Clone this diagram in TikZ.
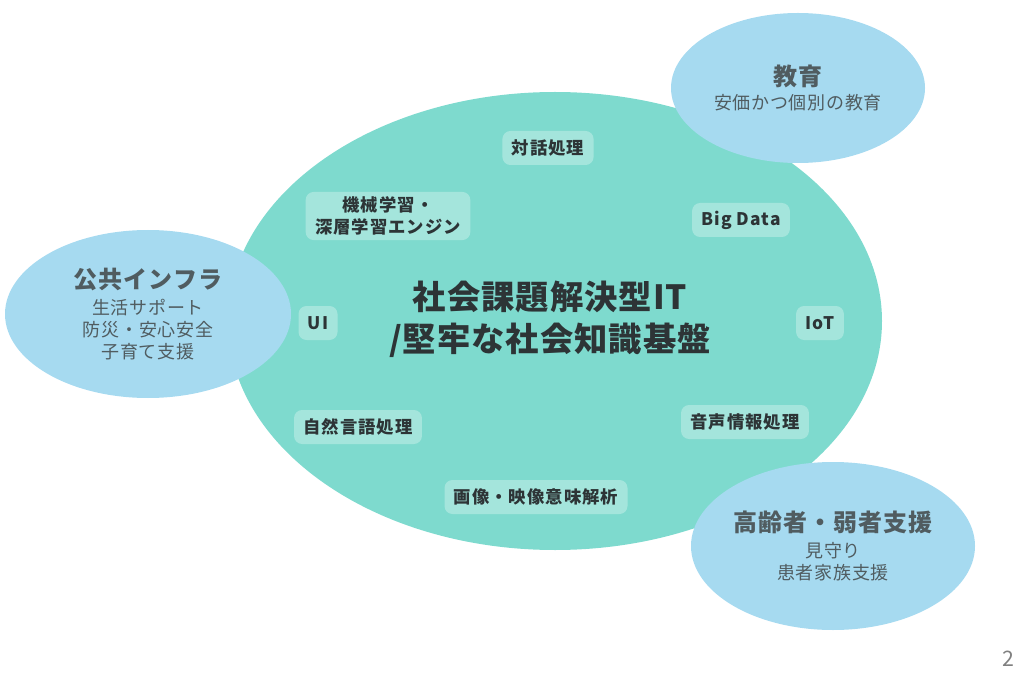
\documentclass[tikz,border=0pt]{standalone}
\usepackage{fontspec}
\setmainfont{Noto Sans CJK JP}
\usetikzlibrary{shapes.geometric}
\definecolor{tealBg}{RGB}{126,218,206}
\definecolor{skyBg}{RGB}{166,218,240}
\definecolor{inkDark}{RGB}{45,52,54}
\definecolor{inkSoft}{RGB}{80,92,96}
\newcommand{\ovalTitle}[1]{{\fontsize{18}{22}\selectfont\bfseries #1}}
\tikzset{
    objBigEllipse/.style={ellipse, fill=tealBg, minimum width=490.5pt, minimum height=343.5pt, inner sep=0pt},
    objSkyEllipse/.style={ellipse, fill=skyBg, inner sep=0pt, text=inkSoft, align=center, font=\fontsize{13.5}{16.5}\selectfont\addfontfeatures{LetterSpace=4}},
    objTitle/.style={text=inkDark, align=center, font=\fontsize{25}{31.5}\selectfont\bfseries\addfontfeatures{LetterSpace=3}},
    objTag/.style={rectangle, rounded corners=6pt, fill=white, fill opacity=0.3, text opacity=1, text=inkDark, minimum height=25.5pt, inner xsep=7pt, align=center, font=\fontsize{13}{17}\selectfont\bfseries\addfontfeatures{LetterSpace=6}}
}
\begin{document}
\begin{tikzpicture}[x=0.75pt, y=-0.75pt]
    \useasboundingbox (0,0) rectangle (1017,677);

    \node (core) [objBigEllipse] at (555,321) {};

    \node (edu) [objSkyEllipse, minimum width=190.5pt, minimum height=112.5pt] at (798,88) {\ovalTitle{教育}\\[2pt] 安価かつ個別の教育};
    \node (infra) [objSkyEllipse, minimum width=214.5pt, minimum height=126pt] at (148,314) {\ovalTitle{公共インフラ}\\[3pt] 生活サポート\\ 防災・安心安全\\ 子育て支援};
    \node (elder) [objSkyEllipse, minimum width=213pt, minimum height=126pt] at (833,546) {\ovalTitle{高齢者・弱者支援}\\[3pt] 見守り\\ 患者家族支援};

    \node (title) [objTitle] at (550,319) {社会課題解決型IT\\/堅牢な社会知識基盤};

    \node (dialog) [objTag] at (548,148) {対話処理};
    \node (mlearn) [objTag] at (388,216) {機械学習・\\深層学習エンジン};
    \node (bigdata) [objTag] at (741,220) {Big Data};
    \node (ui) [objTag] at (318,323) {UI};
    \node (iot) [objTag] at (820,323) {IoT};
    \node (nlp) [objTag] at (358,427) {自然言語処理};
    \node (speech) [objTag] at (745,422) {音声情報処理};
    \node (image) [objTag] at (536,497) {画像・映像意味解析};

    \node (page) [text=gray, font=\fontsize{16}{18}\selectfont] at (1008,659) {2};
\end{tikzpicture}
\end{document}
